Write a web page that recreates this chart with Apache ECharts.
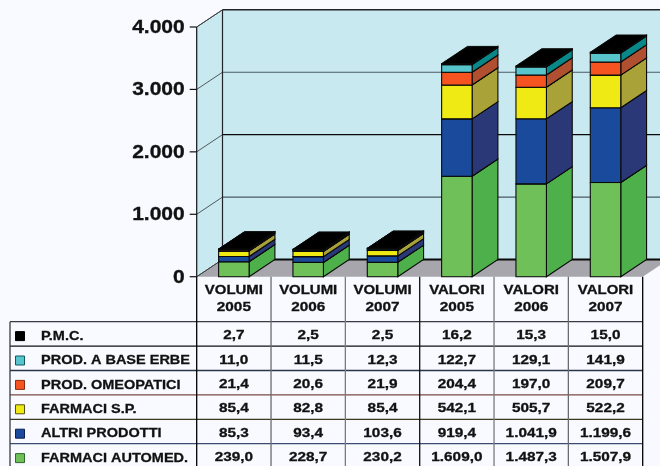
<!DOCTYPE html>
<html><head><meta charset="utf-8">
<style>html,body{margin:0;padding:0;background:#f8faff}#c{width:660px;height:466px}</style>
<script src="https://cdn.jsdelivr.net/npm/echarts@6/dist/echarts.min.js"></script>
</head><body><div id="c"></div>
<script>
const groups = ['VOLUMI','VOLUMI','VOLUMI','VALORI','VALORI','VALORI'];
const years = ['2005','2006','2007','2005','2006','2007'];
const categories = groups.map((g,i)=>g+' '+years[i]);
const yTicks = [0,1000,2000,3000,4000];
const farmaciAutomed = [239.0,228.7,230.2,1609.0,1487.3,1507.9];
const altriProdotti = [85.3,93.4,103.6,919.4,1041.9,1199.6];
const farmaciSP = [85.4,82.8,85.4,542.1,505.7,522.2];
const prodOmeopatici = [21.4,20.6,21.9,204.4,197.0,209.7];
const prodBaseErbe = [11.0,11.5,12.3,122.7,129.1,141.9];
const pmc = [2.7,2.5,2.5,16.2,15.3,15.0];
const seriesNames = ['FARMACI AUTOMED.','ALTRI PRODOTTI','FARMACI S.P.','PROD. OMEOPATICI','PROD. A BASE ERBE','P.M.C.'];
const seriesValues = [farmaciAutomed,altriProdotti,farmaciSP,prodOmeopatici,prodBaseErbe,pmc];
const frontColors = ['#70c05a','#1a4a9c','#f0ea14','#f55420','#58c4cc','#000000'];
const sideColors = ['#4eb04a','#2a3878','#a8a238','#b05030','#088888','#000000'];
const swatchBorders = ['#2f6a2a','#0e1e50','#55520a','#8a2a10','#0a5a60','#000000'];
const tableRows = [5,4,3,2,1,0];
const rowLineColors = ['#3a3a44','#101018','#2a3648','#7a4a40','#3a3a20','#3c4c70'];
const colLineColors = ['#000000','#6a6a70','#7a7a80','#101010','#7a7a80','#6a6a70','#000000'];

const DX=25.8, DY=-17.2, BAR=0.41, SX=1.18;
const FONT='bold 13px "Liberation Sans", Arial, sans-serif';
const fmt = v => { const [a,b]=v.toFixed(1).split('.'); return a.replace(/\B(?=(\d{3})+$)/g,'.')+','+b; };
const poly=(pts,fill,stroke,lw)=>({type:'polygon',shape:{points:pts},style:{fill:fill,stroke:stroke||null,lineWidth:lw||1}});
const line=(a,b,c,w)=>({type:'line',shape:{x1:a[0],y1:a[1],x2:b[0],y2:b[1]},style:{stroke:c,lineWidth:w||1,fill:null}});
const txt=(x,y,t,font,align,sx)=>({type:'text',x:x,y:y,scaleX:sx||SX,style:{text:t,font:font||FONT,fill:'#111',stroke:'#111',lineWidth:0.3,textAlign:align||'center',textVerticalAlign:'middle'}});

function renderWalls(params,api){
  const band=api.size([1,0])[0];
  const xL=api.coord([0,0])[0]-band/2, xR=api.coord([categories.length-1,0])[0]+band/2;
  const y=v=>api.coord([0,v])[1];
  const y0=y(yTicks[0]), yT=y(yTicks[yTicks.length-1]);
  const kids=[
    poly([[xL+DX,y0+DY],[xR+DX,y0+DY],[xR+DX,yT+DY],[xL+DX,yT+DY]],'#c8e9f0'),
    poly([[xL,y0],[xL+DX,y0+DY],[xL+DX,yT+DY],[xL,yT]],'#c8e9f0'),
    poly([[xL,y0],[xR,y0],[xR+DX,y0+DY],[xL+DX,y0+DY]],'#a6a6ac')
  ];
  yTicks.forEach((t,i)=>{
    const yy=y(t);
    if(i>0&&i<yTicks.length-1){
      kids.push(line([xL+DX,yy+DY],[xR+DX,yy+DY],t===2000?'#0a0a0a':'#4a5a60',1.2));
    }
    kids.push(line([xL,yy],[xL+DX,yy+DY],'#50585c',1));
    kids.push(line([xL-7,yy],[xL,yy],'#111',1.2));
    kids.push(txt(xL-12,yy+1,t===0?'0':(t/1000)+'.000','bold 17.5px "Liberation Sans", Arial, sans-serif','right',1.2));
  });
  kids.push(line([xL+DX,yT+DY],[xR+DX,yT+DY],'#202428',1.4));
  kids.push(line([xL+DX,yT+DY],[xL+DX,y0+DY],'#202428',1.2));
  kids.push(line([xL,yT],[xL+DX,yT+DY],'#404040',1));
  kids.push(line([xL,yT],[xL,y0],'#111',1.2));
  kids.push(line([xL+DX,y0+DY],[xR+DX,y0+DY],'#0a0a0a',1.8));
  kids.push(line([xL,y0],[xL+DX,y0+DY],'#404040',1));
  return {type:'group',children:kids};
}
function renderBarSeg(si){
  return function(params,api){
    const c=api.value(0), b=api.value(1), t=api.value(2);
    const w=api.size([1,0])[0]*BAR;
    const p0=api.coord([c,b]), p1=api.coord([c,t]);
    const xl=p0[0]-w/2, xr=p0[0]+w/2, yb=p0[1], yt=p1[1];
    const k='#0a0a0a';
    return {type:'group',children:[
      poly([[xr,yb],[xr+DX,yb+DY],[xr+DX,yt+DY],[xr,yt]],sideColors[si],k,1.1),
      poly([[xl,yb],[xr,yb],[xr,yt],[xl,yt]],frontColors[si],k,1.1),
      poly([[xl,yt],[xr,yt],[xr+DX,yt+DY],[xl+DX,yt+DY]],'#000000',k,1)
    ]};
  };
}
function renderTable(params,api){
  const band=api.size([1,0])[0], rowH=api.size([0,1])[1];
  const cx=i=>api.coord([i,0])[0];
  const ry=r=>api.coord([0,r+0.5])[1];
  const top=ry(0)-rowH/2, xL=cx(0)-band/2, xR=cx(categories.length-1)+band/2;
  const headTop=top-45, bottom=466, tableLeft=10;
  const kids=[];
  tableRows.forEach((s,r)=>{
    const y=top+r*rowH;
    kids.push(line([tableLeft,y],[xR,y],rowLineColors[r],1.3));
    const cy=ry(r);
    kids.push({type:'rect',shape:{x:15.5,y:cy-2.3,width:9,height:9},style:{fill:frontColors[s],stroke:swatchBorders[s],lineWidth:1}});
    kids.push(txt(41,cy+2.4,seriesNames[s],FONT,'left',1.115));
    seriesValues[s].forEach((v,i)=>kids.push(txt(cx(i),cy+1.7,fmt(v))));
  });
  categories.forEach((c,i)=>{
    kids.push(txt(cx(i),headTop+14,groups[i],FONT,'center',1.15));
    kids.push(txt(cx(i),headTop+31,years[i]));
  });
  for(let i=0;i<=categories.length;i++){
    const x=xL+i*band;
    kids.push(line([x,headTop],[x,bottom],colLineColors[i],1.3));
  }
  kids.push(line([tableLeft,top],[tableLeft,bottom],'#3a3a44',1.3));
  return {type:'group',children:kids};
}

const cumul=categories.map(()=>0);
const barSeries=seriesValues.map((vals,si)=>{
  const data=vals.map((v,i)=>{const b=cumul[i];cumul[i]+=v;return [i,b,cumul[i]];});
  return {type:'custom',name:seriesNames[si],xAxisIndex:0,yAxisIndex:0,z:5,clip:false,
    encode:{x:0,y:[1,2]},renderItem:renderBarSeg(si),data:data};
});

const chart=echarts.init(document.getElementById('c'),null,{renderer:'canvas'});
chart.setOption({
  backgroundColor:'#f8faff',animation:false,
  grid:[
    {left:196.7,top:27,width:446,height:249.7},
    {left:196.7,top:321.7,width:446,height:144.3}
  ],
  xAxis:[
    {type:'category',gridIndex:0,data:categories,show:false},
    {type:'category',gridIndex:1,data:categories,show:false}
  ],
  yAxis:[
    {type:'value',gridIndex:0,min:0,max:4000,interval:1000,show:false},
    {type:'value',gridIndex:1,inverse:true,min:0,max:144.3/24.4,show:false}
  ],
  series:[
    {type:'custom',xAxisIndex:0,yAxisIndex:0,z:1,clip:false,silent:true,encode:{x:0,y:1},renderItem:renderWalls,data:[[0,0]]},
    ...barSeries,
    {type:'custom',xAxisIndex:1,yAxisIndex:1,z:6,clip:false,silent:true,encode:{x:0,y:1},renderItem:renderTable,data:[[0,0]]}
  ]
});
</script></body></html>
